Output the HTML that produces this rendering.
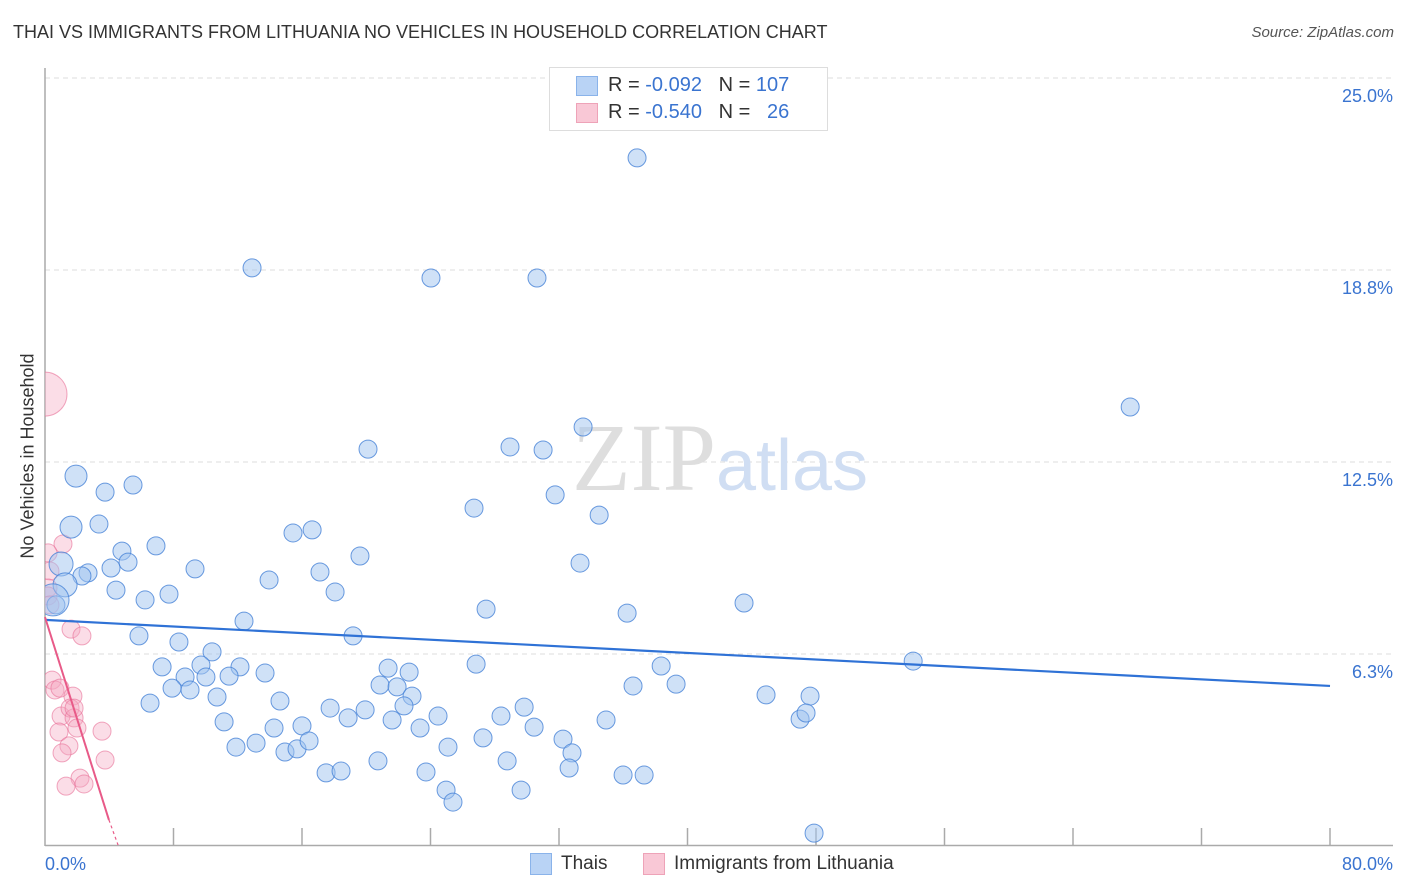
<!DOCTYPE html>
<html><head><meta charset="utf-8"><style>
body{margin:0;background:#fff;font-family:"Liberation Sans",sans-serif;}
#wrap{position:relative;width:1406px;height:892px;overflow:hidden;}
.t{position:absolute;white-space:nowrap;}
</style></head><body>
<div id="wrap">
<div class="t" style="left:13px;top:22px;font-size:18px;color:#333;">THAI VS IMMIGRANTS FROM LITHUANIA NO VEHICLES IN HOUSEHOLD CORRELATION CHART</div>
<div class="t" style="right:12px;top:24px;font-size:15px;color:#555;font-style:italic;">Source: ZipAtlas.com</div>
<div class="t" style="left:28px;top:456px;font-size:18px;color:#333;transform:translate(-50%,-50%) rotate(-90deg);">No Vehicles in Household</div>
<svg id="plot" width="1406" height="892" style="position:absolute;left:0;top:0"><defs><clipPath id="pc"><rect x="45" y="60" width="1360" height="786"/></clipPath></defs></svg>
<div style="position:absolute;left:549px;top:67px;width:277px;height:62px;border:1px solid #ddd;background:#fff;">
<div style="position:absolute;left:26px;top:8px;width:20px;height:18px;background:#b9d3f5;border:1px solid #8ab3ea;"></div>
<div class="t" style="left:58px;top:6px;font-size:20px;color:#333;">R = <span style="color:#3a74d0">-0.092</span>&nbsp;&nbsp;&nbsp;N = <span style="color:#3a74d0">107</span></div>
<div style="position:absolute;left:26px;top:35px;width:20px;height:18px;background:#f9c8d6;border:1px solid #eea3b8;"></div>
<div class="t" style="left:58px;top:33px;font-size:20px;color:#333;">R = <span style="color:#3a74d0">-0.540</span>&nbsp;&nbsp;&nbsp;N = &nbsp;&nbsp;<span style="color:#3a74d0">26</span></div>
</div>
<div style="position:absolute;left:530px;top:853px;width:20px;height:20px;background:#b9d3f5;border:1px solid #8ab3ea;"></div>
<div class="t" style="left:561px;top:853px;font-size:19px;color:#333;">Thais</div>
<div style="position:absolute;left:643px;top:853px;width:20px;height:20px;background:#f9c8d6;border:1px solid #eea3b8;"></div>
<div class="t" style="left:674px;top:853px;font-size:19px;color:#333;">Immigrants from Lithuania</div>
</div>
<script>
const yTicks=[25.0,18.8,12.5,6.3];
const yTickVals=[25,18.75,12.5,6.25];
const xTickLabels=["0.0%","80.0%"];
const thaiX=[36.86,12.89,24.03,30.63,67.56,33.50,20.11,28.95,31.01,3.74,5.48,31.76,26.71,34.50,3.36,15.44,16.63,4.79,6.91,19.61,33.31,4.11,5.17,9.34,2.68,13.95,17.12,4.42,2.30,6.23,7.72,18.06,27.46,36.24,43.52,0.68,12.39,5.85,8.34,19.18,10.40,7.29,9.71,12.14,13.70,26.84,38.36,54.05,21.36,22.67,8.72,10.02,11.46,7.91,9.03,20.86,21.92,22.85,36.61,39.29,44.89,47.63,10.71,14.63,6.54,17.75,19.93,22.35,29.83,11.15,18.87,21.61,24.47,28.39,34.93,47.01,47.38,14.26,16.00,23.35,30.45,11.89,13.14,14.94,15.69,16.44,25.09,27.27,32.25,32.81,20.73,28.77,17.50,18.43,23.72,32.63,35.99,37.30,24.97,29.64,25.40,47.88];
const thaiY=[22.40,18.82,18.49,18.49,14.29,13.64,12.92,12.99,12.89,11.52,11.75,11.43,11.00,10.77,10.48,10.19,10.29,9.60,9.77,9.44,9.21,9.05,9.24,9.02,8.89,8.66,8.92,8.33,8.79,8.01,8.20,8.27,7.71,7.58,7.91,7.85,7.32,6.84,6.64,6.84,6.32,5.83,5.89,5.83,5.63,5.92,5.86,6.02,5.79,5.66,5.50,5.50,5.53,5.14,5.08,5.24,5.18,4.88,5.21,5.27,4.92,4.88,4.85,4.72,4.65,4.49,4.43,4.56,4.52,4.04,4.17,4.10,4.23,4.23,4.10,4.13,4.33,3.84,3.91,3.84,3.87,3.22,3.35,3.06,3.16,3.42,3.22,3.52,3.48,3.03,2.77,2.77,2.38,2.44,2.41,2.54,2.31,2.31,1.82,1.82,1.43,0.42];
const bigThaiX=[1.93,1.62,1.00,1.25,0.50];
const bigThaiY=[12.04,10.38,9.18,8.50,8.01];
const bigThaiSize=[11,11,12,12,16];
const lithX=[1.12,0.19,0.31,0.19,0.19,1.62,2.30,0.44,0.62,0.93,1.74,1.00,1.56,1.81,0.87,1.99,1.49,3.55,1.06,1.81,3.74,2.18,2.43,1.31,0.31];
const lithY=[9.83,9.54,8.95,8.40,8.14,7.06,6.84,5.40,5.08,5.14,4.88,4.23,4.49,4.17,3.71,3.84,3.26,3.74,3.03,4.49,2.80,2.21,2.02,1.95,7.85];
const bigLithX=[0];
const bigLithY=[14.71];
const thaiTrend=[[0,7.36],[80,5.21]];
const lithTrend=[[0,7.45],[3.98,0.85]];
const lithTrendDash=[[3.98,0.85],[4.55,0.03]];

const X0=45,X1=1330,Y0=846,PXY=30.72;
const sx=v=>X0+v/80*(X1-X0);
const sy=v=>Y0-v*PXY;
const svg=document.getElementById('plot');
const NS='http://www.w3.org/2000/svg';
function mk(tag,attrs,parent){const e=document.createElementNS(NS,tag);for(const k in attrs)e.setAttribute(k,attrs[k]);(parent||svg).appendChild(e);return e;}

yTickVals.forEach((v,i)=>{
 const g=mk('line',{x1:45,x2:1393,y1:sy(v),y2:sy(v),stroke:'#ddd','stroke-dasharray':'5,4','stroke-width':1});
 
 
 const t=mk('text',{x:1393,y:sy(v)+24,'text-anchor':'end','font-size':18,fill:'#3a74d0','font-family':'Liberation Sans, sans-serif'});
 t.textContent=yTicks[i].toFixed(1)+'%';
 
 
});
const ax=mk('line',{x1:45,x2:45,y1:68,y2:846,stroke:'#aaa','stroke-width':1.5});


const bx=mk('line',{x1:45,x2:1393,y1:845.5,y2:845.5,stroke:'#aaa','stroke-width':1.5});


for(let i=1;i<=10;i++){
 const l=mk('line',{x1:sx(i*8),x2:sx(i*8),y1:828,y2:846,stroke:'#aaa','stroke-width':1.5});
 
 
}
const xl0=mk('text',{x:45,y:870,'font-size':18,fill:'#3a74d0','font-family':'Liberation Sans, sans-serif'});
xl0.textContent=xTickLabels[0];


const xl1=mk('text',{x:1393,y:870,'text-anchor':'end','font-size':18,fill:'#3a74d0','font-family':'Liberation Sans, sans-serif'});
xl1.textContent=xTickLabels[1];



const wm=mk('text',{x:720,y:490,'text-anchor':'middle','font-size':96,fill:'#dedede','font-family':'Liberation Serif, serif'});
wm.innerHTML='ZIP<tspan fill="#d0def3" font-family="Liberation Sans, sans-serif" font-size="72">atlas</tspan>';



const grp=mk('g',{'clip-path':'url(#pc)'});


function dot(x,y,r,fill,stroke,name){
 const c=mk('circle',{cx:sx(x),cy:sy(y),r:r,fill:fill,stroke:stroke,'stroke-width':1},grp);
 
 
}
lithX.forEach((x,i)=>dot(x,lithY[i],9,'rgba(246,170,195,0.4)','rgba(232,110,150,0.6)','lithuania-point'));
bigLithX.forEach((x,i)=>dot(x,bigLithY[i],22,'rgba(246,170,195,0.4)','rgba(232,110,150,0.6)','lithuania-point'));
thaiX.forEach((x,i)=>dot(x,thaiY[i],9,'rgba(160,195,240,0.5)','rgba(70,130,215,0.8)','thai-point'));
bigThaiX.forEach((x,i)=>dot(x,bigThaiY[i],bigThaiSize[i],'rgba(160,195,240,0.5)','rgba(70,130,215,0.8)','thai-point'));

const tl=mk('line',{x1:sx(thaiTrend[0][0]),y1:sy(thaiTrend[0][1]),x2:sx(thaiTrend[1][0]),y2:sy(thaiTrend[1][1]),stroke:'#2f72d6','stroke-width':2.2});


const pl=mk('line',{x1:sx(lithTrend[0][0]),y1:sy(lithTrend[0][1]),x2:sx(lithTrend[1][0]),y2:sy(lithTrend[1][1]),stroke:'#e85a88','stroke-width':2});


const pd=mk('line',{x1:sx(lithTrendDash[0][0]),y1:sy(lithTrendDash[0][1]),x2:sx(lithTrendDash[1][0]),y2:sy(lithTrendDash[1][1]),stroke:'#e85a88','stroke-width':1.2,'stroke-dasharray':'3,3'});


</script>
</body></html>
